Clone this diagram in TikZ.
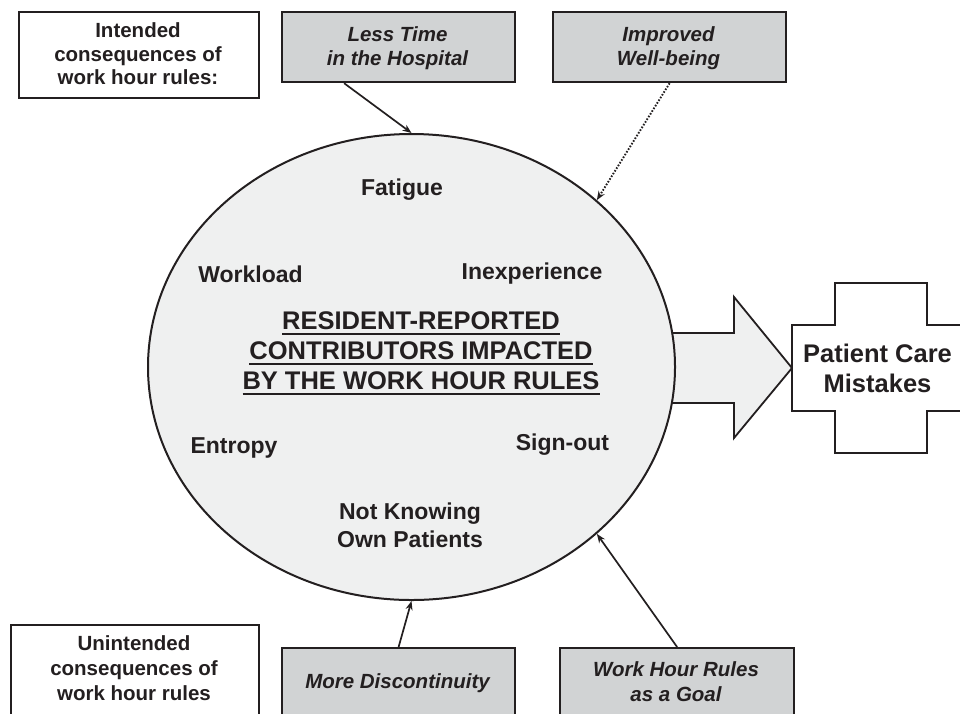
\documentclass[tikz,border=0pt]{standalone}
\usepackage{fontspec}
\setmainfont{Liberation Sans}
\usetikzlibrary{arrows.meta,shapes.geometric}
\definecolor{ink}{HTML}{231F20}
\definecolor{boxgray}{HTML}{D1D3D4}
\definecolor{ellfill}{HTML}{EFF0F0}
\newcommand\myul[1]{\setbox0\hbox{#1}\rlap{\rule[-5.3pt]{\wd0}{2pt}}\box0}
\begin{document}
\begin{tikzpicture}[x=1pt,y=-1pt,
  plainbox/.style={draw=ink, line width=2.2pt, fill=white, inner sep=0pt, anchor=north west},
  graybox/.style={plainbox, fill=boxgray},
  btxt/.style={text=ink, align=center, inner sep=0pt, font=\bfseries\fontsize{20.5}{23.5}\selectfont},
  itxt/.style={btxt, font=\bfseries\itshape\fontsize{20.5}{23.5}\selectfont},
  etxt/.style={text=ink, align=center, inner sep=0pt, font=\bfseries\fontsize{23}{28}\selectfont},
  conn/.style={draw=ink, line width=1.7pt, -{Stealth[length=9pt,width=7pt]}},
  shapeline/.style={draw=ink, line width=1.8pt, line join=miter}]
\useasboundingbox (0,0) rectangle (960,713);
\clip (0,0) rectangle (960,713);
\fill[white] (0,0) rectangle (960,713);

% boxes
\node[plainbox, minimum width=240pt, minimum height=86pt] (intended) at (18,11) {};
\node[graybox, minimum width=233pt, minimum height=70pt] (lesstime) at (281,11) {};
\node[graybox, minimum width=233pt, minimum height=70pt] (improved) at (552,11) {};
\node[plainbox, minimum width=248pt, minimum height=120pt] (unint) at (10,624) {};
\node[graybox, minimum width=233pt, minimum height=100pt] (moredisc) at (281,647) {};
\node[graybox, minimum width=234pt, minimum height=100pt] (workhour) at (559,647) {};

\node[btxt] (intendedT) at (138,54) {Intended\\consequences of\\work hour rules:};
\node[itxt] (lesstimeT) at (397.5,48) {Less Time\\in the Hospital};
\node[itxt] (improvedT) at (668.5,48) {Improved\\Well-being};
\node[btxt, font=\bfseries\fontsize{20.5}{25}\selectfont] (unintT) at (134,668) {Unintended\\consequences of\\work hour rules};
\node[itxt] (moredisct) at (397.5,683) {More Discontinuity};
\node[itxt, font=\bfseries\itshape\fontsize{20.5}{25}\selectfont] (workhourT) at (676,682) {Work Hour Rules\\as a Goal};

% block arrow
\draw[shapeline, fill=ellfill] (640,333) -- (734,333) -- (734,297) -- (792,368) -- (734,438) -- (734,403) -- (640,403) -- cycle;

% ellipse
\node[ellipse, draw=ink, line width=2pt, fill=ellfill, minimum width=527pt, minimum height=466pt, inner sep=0pt] (ell) at (411.5,367) {};

% cross
\draw[shapeline, fill=white] (835,283) -- (927,283) -- (927,325) -- (975,325) -- (975,411) -- (927,411) -- (927,453) -- (835,453) -- (835,411) -- (792,411) -- (792,325) -- (835,325) -- cycle;
\node[text=ink, align=center, inner sep=0pt, font=\bfseries\fontsize{25.5}{30}\selectfont] (mistakes) at (877.5,368) {Patient Care\\Mistakes};

% ellipse contents
\node[etxt, anchor=base] (fatigue) at (402,195) {Fatigue};
\node[etxt, anchor=base] (workload) at (250.5,282) {Workload};
\node[etxt, anchor=base] (inexp) at (532,279) {Inexperience};
\node[etxt, anchor=base] (entropy) at (234,453) {Entropy};
\node[etxt, anchor=base] (signout) at (562.5,450) {Sign-out};
\node[etxt] (notknowing) at (410,525.7) {Not Knowing\\Own Patients};
\node[text=ink, align=center, inner sep=0pt, font=\bfseries\fontsize{25.5}{30}\selectfont] (title) at (421,353.4)
  {\myul{RESIDENT-REPORTED}\\\myul{CONTRIBUTORS IMPACTED}\\\myul{BY THE WORK HOUR RULES}};

% connectors
\draw[conn] ([xshift=-54.5pt]lesstime.south) -- (ell.north);
\draw[conn, line width=1.9pt, dash pattern=on 1.6pt off 1.6pt] (improved.south) -- (ell.42);
\draw[conn] (moredisc.north) -- (ell.south);
\draw[conn] (workhour.north) -- (ell.-42);
\end{tikzpicture}
\end{document}
